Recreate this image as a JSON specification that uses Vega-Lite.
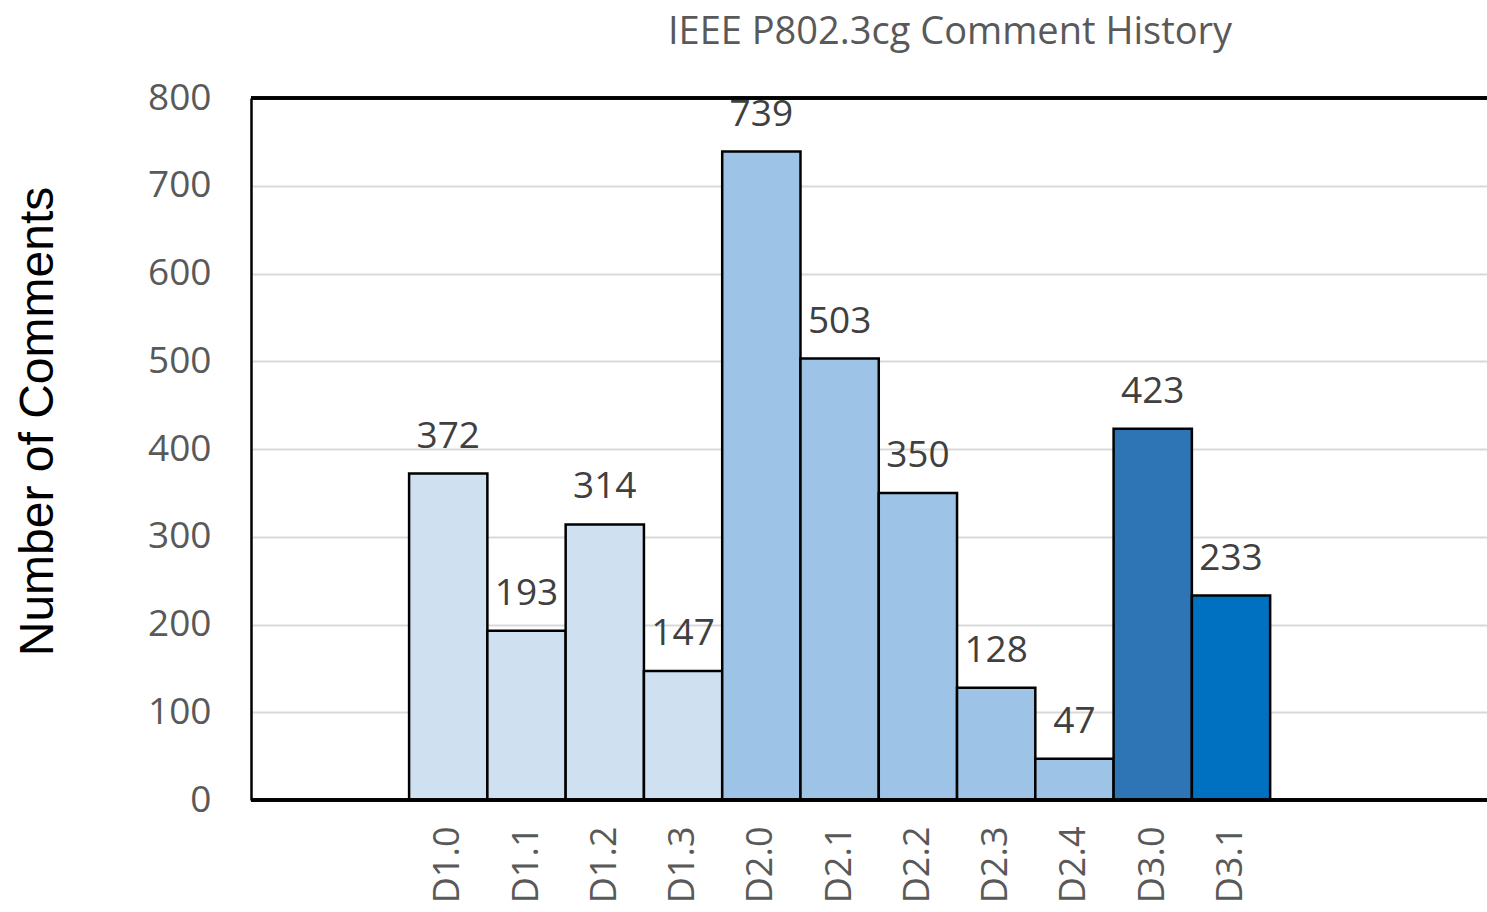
{
  "$schema": "https://vega.github.io/schema/vega-lite/v6.json",
  "autosize": "none",
  "width": 1236,
  "height": 702,
  "padding": {"left": 251, "top": 98, "right": 0, "bottom": 112},
  "background": "white",
  "config": {"view": {"stroke": null}},
  "title": {
    "text": "IEEE P802.3cg Comment History",
    "font": "Open Sans",
    "fontSize": 38,
    "fontWeight": "normal",
    "color": "#595959",
    "anchor": "middle",
    "dx": 81,
    "offset": 27
  },
  "data": {
    "values": [
      {"draft": "D1.0", "comments": 372, "group": "D1"},
      {"draft": "D1.1", "comments": 193, "group": "D1"},
      {"draft": "D1.2", "comments": 314, "group": "D1"},
      {"draft": "D1.3", "comments": 147, "group": "D1"},
      {"draft": "D2.0", "comments": 739, "group": "D2"},
      {"draft": "D2.1", "comments": 503, "group": "D2"},
      {"draft": "D2.2", "comments": 350, "group": "D2"},
      {"draft": "D2.3", "comments": 128, "group": "D2"},
      {"draft": "D2.4", "comments": 47, "group": "D2"},
      {"draft": "D3.0", "comments": 423, "group": "D3.0"},
      {"draft": "D3.1", "comments": 233, "group": "D3.1"}
    ]
  },
  "encoding": {
    "x": {
      "field": "draft",
      "type": "nominal",
      "sort": null,
      "scale": {
        "domain": [" ", "  ", "D1.0", "D1.1", "D1.2", "D1.3", "D2.0", "D2.1", "D2.2", "D2.3", "D2.4", "D3.0", "D3.1", "   ", "    "],
        "paddingInner": 0,
        "paddingOuter": 0.395,
        "align": 0.025
      },
      "axis": {
        "title": null,
        "labelAngle": -90,
        "labelFont": "Open Sans",
        "labelFontSize": 36,
        "labelColor": "#595959",
        "labelPadding": 26,
        "ticks": false,
        "domain": false,
        "labelAlign": "right",
        "labelBaseline": "middle"
      }
    },
    "y": {
      "field": "comments",
      "type": "quantitative",
      "scale": {"domain": [0, 800], "nice": false},
      "axis": {
        "values": [0, 100, 200, 300, 400, 500, 600, 700, 800],
        "title": "Number of Comments",
        "titleFont": "Liberation Sans",
        "titleFontSize": 48,
        "titleFontWeight": "normal",
        "titleColor": "black",
        "titleAngle": -90,
        "titleX": -213,
        "titleY": 323,
        "titleAlign": "center",
        "titleBaseline": "middle",
        "labelFont": "Open Sans",
        "labelFontSize": 37,
        "labelColor": "#595959",
        "labelPadding": 40,
        "ticks": false,
        "domainColor": "black",
        "domainWidth": 2.5,
        "gridColor": "#d9d9d9",
        "gridWidth": 2
      }
    }
  },
  "layer": [
    {
      "mark": {"type": "bar", "stroke": "black", "strokeWidth": 2.5},
      "encoding": {
        "color": {
          "field": "group",
          "type": "nominal",
          "scale": {"domain": ["D1", "D2", "D3.0", "D3.1"], "range": ["#cfe0f1", "#9dc3e6", "#2e75b6", "#0070c0"]},
          "legend": null
        }
      }
    },
    {
      "mark": {"type": "text", "font": "Open Sans", "fontSize": 37, "color": "#404040", "baseline": "bottom", "dy": -18},
      "encoding": {"text": {"field": "comments", "type": "quantitative"}}
    },
    {
      "mark": {"type": "rule", "color": "black", "strokeWidth": 2.5},
      "encoding": {"y": {"datum": 800}, "x": null}
    },
    {
      "mark": {"type": "rule", "color": "black", "strokeWidth": 2.5},
      "encoding": {"y": {"datum": 0}, "x": null}
    }
  ]
}
